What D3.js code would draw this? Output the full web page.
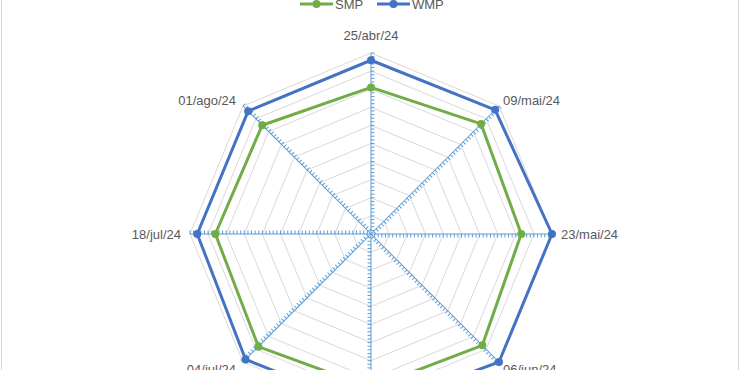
<!DOCTYPE html>
<html>
<head>
<meta charset="utf-8">
<script src="https://cdn.jsdelivr.net/npm/d3@7"></script>
<style>
  body { margin: 0; background: #fff; }
  svg { display: block; font-family: "Liberation Sans", Arial, sans-serif; }
</style>
</head>
<body>
<div id="chart"></div>
<script>
const width = 740;
const height = 370;

// data (scale 0..100, outer ring = 100)
const dates = ["25/abr/24", "09/mai/24", "23/mai/24", "06/jun/24", "20/jun/24", "04/jul/24", "18/jul/24", "01/ago/24"];
const smp = [81, 86, 83, 87, 85, 88, 86, 85];
const wmp = [96, 97, 100, 100, 97, 98, 96, 96];
const seriesNames = ["SMP", "WMP"];
const seriesColors = ["#70AD47", "#4472C4"];

const cx = 371, cy = 234, R = 181;
const rings = 10, minorPerRing = 5;

const svg = d3.select("#chart").append("svg")
  .attr("width", width)
  .attr("height", height);

// chart frame (top/bottom out of view)
svg.append("rect")
  .attr("x", 1.5).attr("y", -10)
  .attr("width", width - 3).attr("height", height + 20)
  .attr("fill", "none")
  .attr("stroke", "#D9D9D9");

const r = d3.scaleLinear().domain([0, 100]).range([0, R]);
const angle = d3.scalePoint().domain(dates).range([0, 2 * Math.PI * (dates.length - 1) / dates.length]);

const g = svg.append("g").attr("transform", `translate(${cx},${cy})`);

// grid rings
const ringVals = d3.range(1, rings + 1).map(i => i * 100 / rings);
g.selectAll(".ring")
  .data(ringVals)
  .join("path")
    .attr("fill", "none")
    .attr("stroke", "#D9D9D9")
    .attr("stroke-width", 1)
    .attr("d", v => d3.lineRadial().angle(d => angle(d)).radius(r(v)).curve(d3.curveLinearClosed)(dates));

// spokes with minor tick marks
const tickVals = d3.range(1, rings * minorPerRing + 1).map(i => i * 100 / (rings * minorPerRing));
const spoke = g.selectAll(".spoke")
  .data(dates)
  .join("g")
    .attr("transform", d => `rotate(${angle(d) * 180 / Math.PI})`);

spoke.append("line")
  .attr("x1", 0).attr("y1", 0)
  .attr("x2", 0).attr("y2", -R)
  .attr("stroke", "#5B9BD5")
  .attr("stroke-width", 1);

spoke.selectAll("line.tick")
  .data(tickVals)
  .join("line")
    .attr("class", "tick")
    .attr("x1", 0).attr("x2", 3.5)
    .attr("y1", v => -r(v)).attr("y2", v => -r(v))
    .attr("stroke", "#5B9BD5")
    .attr("stroke-width", 1);

// series
const series = [smp, wmp];
series.forEach((vals, i) => {
  const pts = dates.map((d, j) => ({ d, v: vals[j] }));
  g.append("path")
    .datum(pts)
    .attr("fill", "none")
    .attr("stroke", seriesColors[i])
    .attr("stroke-width", 3)
    .attr("stroke-linejoin", "round")
    .attr("d", d3.lineRadial().angle(p => angle(p.d)).radius(p => r(p.v)).curve(d3.curveLinearClosed));
  g.selectAll(".pt" + i)
    .data(pts)
    .join("circle")
      .attr("cx", p => r(p.v) * Math.sin(angle(p.d)))
      .attr("cy", p => -r(p.v) * Math.cos(angle(p.d)))
      .attr("r", 4)
      .attr("fill", seriesColors[i]);
});

// category labels, placed just outside the outer ring
function labelPos(d) {
  const s = Math.sin(angle(d)), c = Math.cos(angle(d));
  let x = R * s, y = -R * c;
  if (Math.abs(s) < 0.01) y += c > 0 ? -18 : 18;
  else if (Math.abs(c) < 0.01) x += s > 0 ? 9 : -9;
  else {
    x += s > 0 ? 4 : -7;
    y += c > 0 ? -6 : 7;
  }
  return [x, y];
}
g.selectAll(".lbl")
  .data(dates)
  .join("text")
    .attr("x", d => labelPos(d)[0])
    .attr("y", d => labelPos(d)[1])
    .attr("dy", "0.35em")
    .attr("text-anchor", d => {
      const s = Math.sin(angle(d));
      return Math.abs(s) < 0.01 ? "middle" : s > 0 ? "start" : "end";
    })
    .attr("font-size", 13)
    .attr("fill", "#595959")
    .text(d => d);

// legend
const legend = svg.append("g").attr("transform", "translate(300,4)");
const item = legend.selectAll("g")
  .data(seriesNames)
  .join("g")
    .attr("transform", (d, i) => `translate(${i * 77},0)`);
item.append("line")
  .attr("x1", 0).attr("x2", 33)
  .attr("stroke", (d, i) => seriesColors[i])
  .attr("stroke-width", 3);
item.append("circle")
  .attr("cx", 16.5).attr("r", 4)
  .attr("fill", (d, i) => seriesColors[i]);
item.append("text")
  .attr("x", 35)
  .attr("dy", "0.35em")
  .attr("font-size", 13)
  .attr("fill", "#595959")
  .text(d => d);
</script>
</body>
</html>
